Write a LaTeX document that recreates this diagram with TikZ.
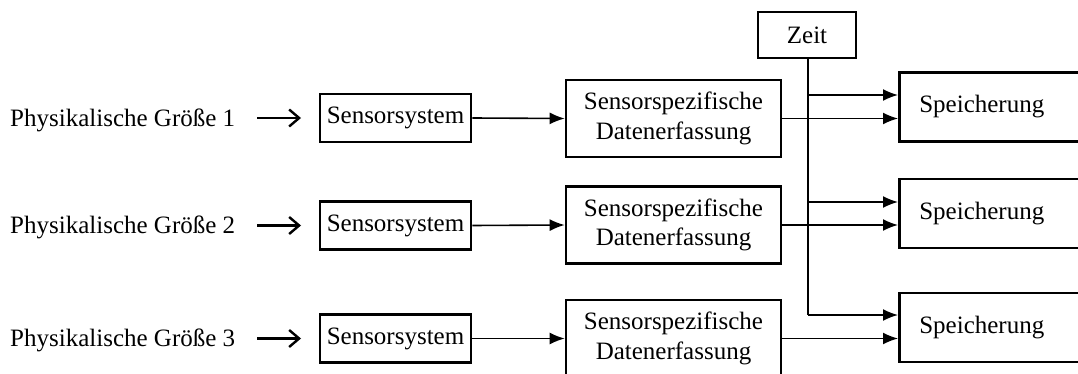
\documentclass[tikz,border=0pt]{standalone}
\usepackage{fontspec}
\setmainfont{Liberation Serif}
\usetikzlibrary{arrows.meta}
\begin{document}
\begin{tikzpicture}[x=1pt,y=-1pt,
  every node/.style={font=\fontsize{25}{29.5}\selectfont},
  boxnode/.style={draw,line width=2.6pt,inner sep=0pt,align=center},
  sensbox/.style={boxnode,minimum width=151,minimum height=48},
  datbox/.style={boxnode,minimum width=215,minimum height=77},
  spbox/.style={boxnode,anchor=west,minimum height=69,text width=200,align=left,inner xsep=20},
  lbl/.style={inner sep=0pt,anchor=west},
  openarr/.style={line width=2.4pt,-{Straight Barb[length=10pt,width=17pt,line width=2.4pt]}},
  conn/.style={line width=1.6pt,-{Latex[length=15pt,width=12pt]}},
  tline/.style={line width=1.2pt}]
\useasboundingbox (0,0) rectangle (1078,374);
\clip (0,0) rectangle (1078,374);

% Zeit
\node[boxnode,minimum width=98,minimum height=46] (zeit) at (807,35) {Zeit};

% rows
\foreach \i/\yc/\yd/\ys in {1/118/118.5/107, 2/225.5/225/213.5, 3/338.5/338.5/327.5}{
  \node[lbl] (pg\i) at (10,\yc+2) {Physikalische Größe \i};
  \coordinate (a\i) at (257,\yc);
  \node[sensbox] (ss\i) at (395.5,\yc) {Sensorsystem};
  \node[datbox] (de\i) at (673.5,\yd) {Sensorspezifische\\Datenerfassung};
  \node[spbox] (sp\i) at (898,\ys) {Speicherung};
}

\foreach \i in {1,2,3}{
  \draw[openarr] (a\i) -- (ss\i.west -| 301,0);
  \draw[conn] (ss\i.east) -- (de\i.west);
  \draw[conn] (de\i.east) -- (de\i.east -| sp\i.west);
}

% time lines
\coordinate (t1) at (808,95);
\coordinate (t2) at (808,202);
\coordinate (t3) at (808,315);
\draw[tline] (zeit.south -| t1) -- (t3);
\draw[conn] (t3) -- (t3 -| sp3.west);
\draw[conn] (t1) -- (t1 -| sp1.west);
\draw[conn] (t2) -- (t2 -| sp2.west);
\end{tikzpicture}
\end{document}
